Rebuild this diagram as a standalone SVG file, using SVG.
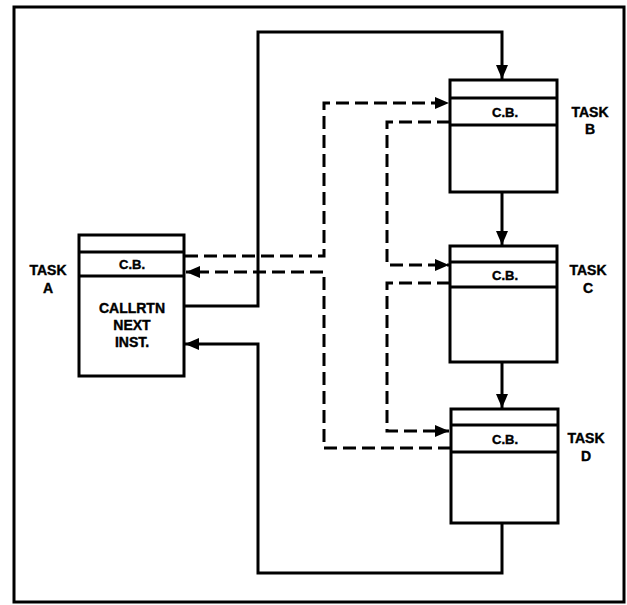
<svg xmlns="http://www.w3.org/2000/svg" width="627" height="605" viewBox="0 0 627 605">
<style>
.box{fill:#fff;stroke:#000;stroke-width:3}
.div{stroke:#000;stroke-width:3}
.sl{fill:none;stroke:#000;stroke-width:3}
.dl{fill:none;stroke:#000;stroke-width:3}
.dl{stroke-dasharray:13 6}
.t{font-family:"Liberation Sans",Arial,sans-serif;font-weight:bold;font-size:14px;text-anchor:middle;fill:#000;stroke:#000;stroke-width:0.4}
.cb{font-family:"Liberation Sans",Arial,sans-serif;font-weight:bold;font-size:13px;text-anchor:middle;fill:#000;stroke:#000;stroke-width:0.4}
</style>
<defs>
<marker id="ah" viewBox="0 0 14 12" refX="14" refY="6" markerWidth="14" markerHeight="12" markerUnits="userSpaceOnUse" orient="auto">
<path d="M0,0 L14,6 L0,12 Z" fill="#000"/>
</marker>
</defs>
<rect x="14" y="7" width="610" height="595" fill="#fff" stroke="#000" stroke-width="3"/>
<g id="connectors">
<path class="sl" d="M184,306 H258 V32 H502 V79" marker-end="url(#ah)"/>
<path class="sl" d="M502,192 V245" marker-end="url(#ah)"/>
<path class="sl" d="M502,362 V408" marker-end="url(#ah)"/>
<path class="sl" d="M502,523 V573 H258 V344 H185" marker-end="url(#ah)"/>
<path class="dl" d="M185,256 H324 V103 H449" marker-end="url(#ah)"/>
<path class="dl" d="M450,122 H387 V265 H449" marker-end="url(#ah)"/>
<path class="dl" d="M450,283 H387 V431 H449" marker-end="url(#ah)"/>
<path class="dl" d="M451,448 H324 V272 H186" marker-end="url(#ah)"/>
</g>
<g id="taskA">
<rect class="box" x="79" y="235" width="105" height="141"/>
<line class="div" x1="79" y1="252" x2="184" y2="252"/>
<line class="div" x1="79" y1="276" x2="184" y2="276"/>
<text class="cb" x="132" y="269">C.B.</text>
<text class="t" x="132" y="313">CALLRTN</text>
<text class="t" x="132" y="330">NEXT</text>
<text class="t" x="132" y="347">INST.</text>
<text class="t" x="48" y="275">TASK</text>
<text class="t" x="48" y="293">A</text>
</g>
<g id="taskB">
<rect class="box" x="450" y="80" width="107" height="112"/>
<line class="div" x1="450" y1="98" x2="557" y2="98"/>
<line class="div" x1="450" y1="125" x2="557" y2="125"/>
<text class="cb" x="505" y="117">C.B.</text>
<text class="t" x="590" y="117">TASK</text>
<text class="t" x="590" y="134">B</text>
</g>
<g id="taskC">
<rect class="box" x="450" y="246" width="107" height="116"/>
<line class="div" x1="450" y1="262" x2="557" y2="262"/>
<line class="div" x1="450" y1="287" x2="557" y2="287"/>
<text class="cb" x="505" y="280">C.B.</text>
<text class="t" x="588" y="275">TASK</text>
<text class="t" x="588" y="293">C</text>
</g>
<g id="taskD">
<rect class="box" x="451" y="409" width="107" height="114"/>
<line class="div" x1="451" y1="425" x2="558" y2="425"/>
<line class="div" x1="451" y1="452" x2="558" y2="452"/>
<text class="cb" x="505" y="444">C.B.</text>
<text class="t" x="586" y="443">TASK</text>
<text class="t" x="586" y="461">D</text>
</g>
</svg>
